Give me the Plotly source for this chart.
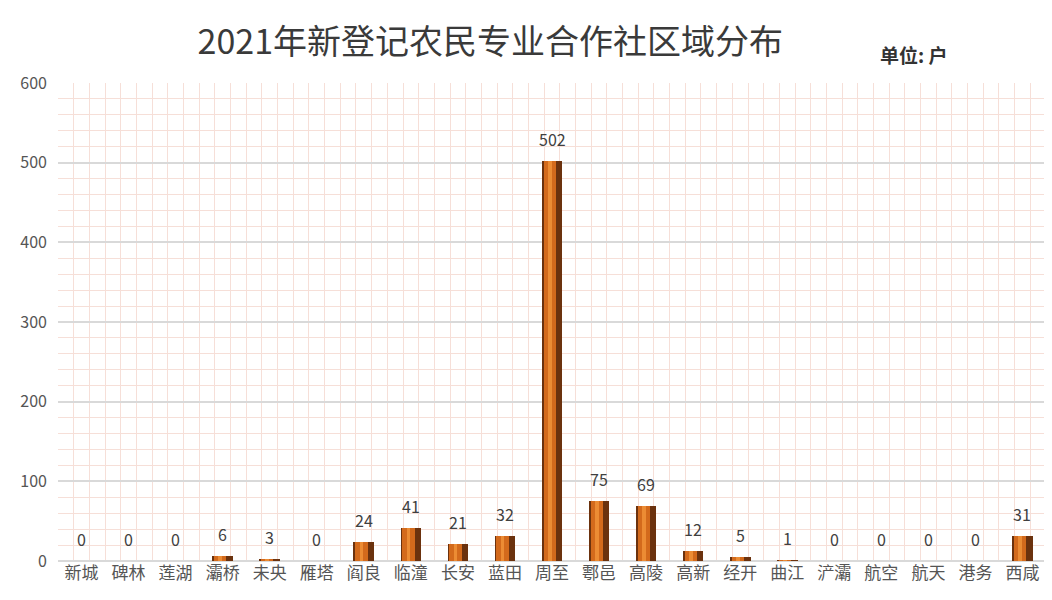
import plotly.graph_objects as go

categories = ["新城", "碑林", "莲湖", "灞桥", "未央", "雁塔", "阎良", "临潼", "长安", "蓝田",
              "周至", "鄠邑", "高陵", "高新", "经开", "曲江", "浐灞", "航空", "航天", "港务", "西咸"]
values = [0, 0, 0, 6, 3, 0, 24, 41, 21, 32, 502, 75, 69, 12, 5, 1, 0, 0, 0, 0, 31]
y_ticks = [0, 100, 200, 300, 400, 500, 600]

x = list(range(len(categories)))
font_cjk = "Noto Sans CJK SC, Microsoft YaHei, sans-serif"

fig = go.Figure()
# full bar (dark edges)
fig.add_trace(go.Bar(
    x=x, y=values, width=0.44,
    marker=dict(color="#6b320e", line=dict(width=0)),
    hoverinfo="skip", showlegend=False,
))
# orange face
fig.add_trace(go.Bar(
    x=x, y=values, width=0.26, offset=-0.18,
    marker=dict(color="#d36a1c", line=dict(width=0)),
    hoverinfo="skip", showlegend=False,
))
# bright centre strip
fig.add_trace(go.Bar(
    x=x, y=values, width=0.08, offset=-0.09,
    marker=dict(color="#ec8c34", line=dict(width=0)),
    hoverinfo="skip", showlegend=False,
))

annotations = [dict(x=xi, y=v, text=str(v), xref="x", yref="y", showarrow=False,
                    yanchor="bottom", xanchor="center", yshift=8,
                    font=dict(size=16, color="#404040", family=font_cjk))
               for xi, v in zip(x, values)]
annotations.append(dict(text="<b>单位: 户</b>", xref="paper", yref="paper",
                        x=0.866, y=1.06, xanchor="center", yanchor="middle", showarrow=False,
                        font=dict(size=19, color="#333333", family=font_cjk)))

fig.update_layout(
    width=1044, height=592,
    barmode="overlay",
    plot_bgcolor="white", paper_bgcolor="white",
    margin=dict(l=50, r=6, t=75, b=39),
    title=dict(text="2021年新登记农民专业合作社区域分布", x=0.462, xanchor="center",
               y=0.943, yanchor="middle",
               font=dict(size=34, color="#3a3a3a", family=font_cjk)),
    annotations=annotations,
    xaxis=dict(
        tickmode="array", tickvals=x, ticktext=categories,
        range=[-0.5, len(categories) - 0.5],
        showgrid=False, zeroline=False, showline=False, ticks="",
        tickfont=dict(size=17, color="#555555", family=font_cjk),
        minor=dict(tick0=-0.5, dtick=1/3, showgrid=True, gridcolor="#f6dfd8", gridwidth=1),
    ),
    yaxis=dict(
        tickmode="array", tickvals=y_ticks, range=[0, 600],
        showgrid=True, gridcolor="#d9d9d9", gridwidth=1.5,
        zeroline=True, zerolinecolor="#d9d9d9", zerolinewidth=1.5,
        showline=False, ticks="",
        tickfont=dict(size=16, color="#555555", family=font_cjk),
        ticklabelstandoff=10,
        minor=dict(dtick=20, showgrid=True, gridcolor="#f6dfd8", gridwidth=1),
    ),
    bargap=0,
)

fig.write_html("out.html")
